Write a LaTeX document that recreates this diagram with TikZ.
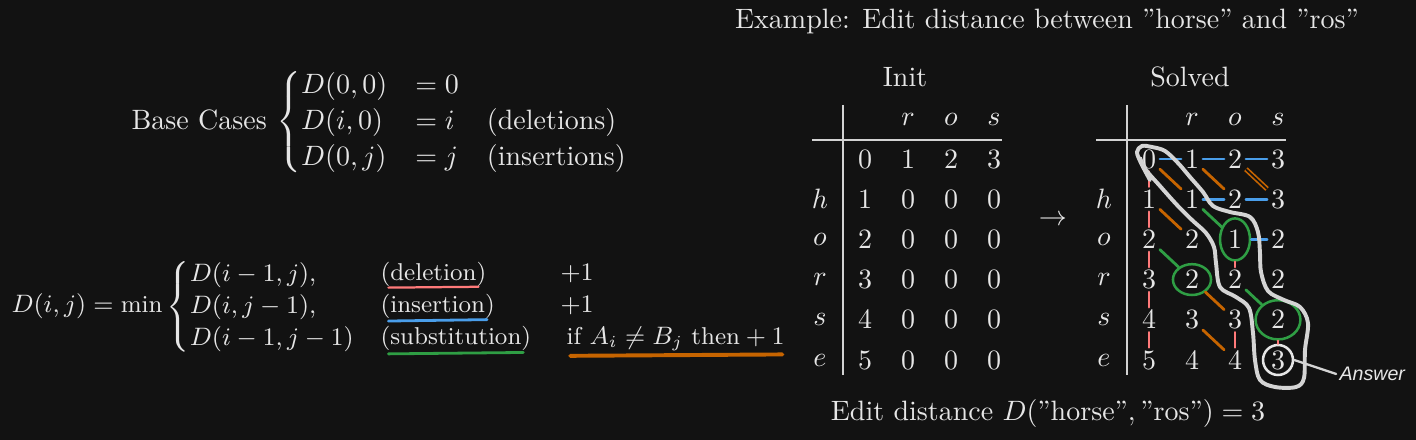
\documentclass[tikz,border=0pt]{standalone}
\usepackage{amsmath}
\usepackage{fontspec}
\newfontfamily\handfont{Liberation Sans}
\definecolor{bgdark}{HTML}{121212}
\definecolor{ink}{HTML}{E6E6E6}
\definecolor{rulegray}{HTML}{D2D2D2}
\definecolor{delred}{HTML}{FF7A7A}
\definecolor{insblue}{HTML}{4A9EEA}
\definecolor{subamber}{HTML}{C66400}
\definecolor{matchgreen}{HTML}{2F9E44}
\definecolor{pathgray}{HTML}{D4D4D4}
\usetikzlibrary{shapes.geometric, calc}
\tikzset{
	txt/.style={text=ink, inner sep=0pt},
	rectxt/.style={text=ink, inner sep=0pt, anchor=base west, font=\fontsize{8.7}{10.6}\selectfont},
	cell/.style={text=ink, inner xsep=1.2pt, inner ysep=1pt},
	tablerule/.style={draw=rulegray, line width=0.9pt},
	delline/.style={draw=delred, line width=0.8pt, line cap=round},
	insline/.style={draw=insblue, line width=1pt, line cap=round},
	subline/.style={draw=subamber, line width=1pt, line cap=round},
	matchline/.style={draw=matchgreen, line width=1pt, line cap=round},
	matchring/.style={ellipse, draw=matchgreen, line width=0.9pt, inner sep=0pt},
	answerring/.style={circle, draw=ink, line width=0.9pt, minimum size=10.7pt, inner sep=0pt},
	pathloop/.style={draw=pathgray, line width=1.4pt, line cap=round, line join=round},
}

\begin{document}
\begin{tikzpicture}[x=0.357pt, y=-0.357pt]
	\fill[bgdark] (0,0) rectangle (1416,440);
	\useasboundingbox (0,0) rectangle (1416,440);

	\node[txt, anchor=west] (base) at (131,122) {Base Cases $\left\{\def\arraystretch{1.07}\begin{array}{@{}l@{\quad}l@{\quad}l@{}} D(0,0) & =0 & \\ D(i,0) & =i & \text{(deletions)}\\ D(0,j) & =j & \text{(insertions)}\end{array}\right.$};

	\node[rectxt] (rec) at (11,313) {$D(i,j) = \min\left\{\def\arraystretch{1.08}\begin{array}{@{}l@{}} D(i-1,j),\\ D(i,j-1),\\ D(i-1,j-1)\end{array}\right.$};
	\node[rectxt] (delw) at (380,281) {(deletion)};
	\node[rectxt] (insw) at (380,313) {(insertion)};
	\node[rectxt] (subw) at (380,345) {(substitution)};
	\node[rectxt] (cost1) at (560,281) {$+1$};
	\node[rectxt] (cost2) at (560,313) {$+1$};
	\node[rectxt] (cond) at (566,345) {$\text{if } A_i \neq B_j \text{ then} + 1$};
	\draw[delline] ([xshift=3pt]delw.south west) -- ([xshift=-3pt, yshift=0.3pt]delw.south east);
	\draw[insline] ([xshift=3pt, yshift=-0.5pt]insw.south west) -- ([xshift=-3pt]insw.south east);
	\draw[matchline] ([xshift=3pt, yshift=-0.8pt]subw.south west) -- ([xshift=-3pt, yshift=-0.3pt]subw.south east);
	\draw[subline, line width=1.4pt] ([xshift=1.5pt, yshift=-1.5pt]cond.south west) -- ([xshift=-1pt, yshift=-1pt]cond.south east);

	\node[txt] (title) at (1047,22) {Example: Edit distance between ”horse” and ”ros”};
	\node[txt] (init) at (905,77) {Init};
	\node[txt] (solved) at (1190,77) {Solved};
	\node[txt] (to) at (1053,220) {$\rightarrow$};
	\node[txt] (result) at (1048,413) {Edit distance $D(\text{”horse”}, \text{”ros”}) = 3$};

	\foreach \t/\ox in {I/865, S/1149}{
		\foreach \c/\l in {1/r,2/o,3/s} \node[cell] (\t H-\c) at (\ox+43*\c,119) {$\l$};
		\foreach \r/\l in {1/h,2/o,3/r,4/s,5/e} \node[cell] (\t L-\r) at (\ox-45, 159+40.2*\r) {$\l$};
		\draw[tablerule] (\ox-22,105) -- (\ox-22,375);
		\draw[tablerule] (\ox-53,140) -- (\ox+137,140);
	}
	\foreach \r/\row in {0/{0,1,2,3},1/{1,0,0,0},2/{2,0,0,0},3/{3,0,0,0},4/{4,0,0,0},5/{5,0,0,0}}
		\foreach \v [count=\c from 0] in \row \node[cell] (I-\r-\c) at (865+43*\c, 159+40.2*\r) {$\v$};
	\foreach \r/\row in {0/{0,1,2,3},1/{1,1,2,3},2/{2,2,1,2},3/{3,2,2,2},4/{4,3,3,2},5/{5,4,4,3}}
		\foreach \v [count=\c from 0] in \row \node[cell] (S-\r-\c) at (1149+43*\c, 159+40.2*\r) {$\v$};

	\node[matchring, minimum width=10.7pt, minimum height=15pt] (m1) at (S-2-2) {};
	\node[matchring, minimum width=13.6pt, minimum height=11pt] (m2) at (S-3-1) {};
	\node[matchring, minimum width=16pt, minimum height=14pt] (m3) at (S-4-3) {};
	\node[answerring] (ans) at (S-5-3) {};

	\foreach \a/\b in {S-0-0/S-0-1, S-0-1/S-0-2, S-0-2/S-0-3, S-1-1/S-1-2, S-1-2/S-1-3, m1/S-2-3}{\draw[insline] (\a) -- (\b);}
	\foreach \a/\b in {S-0-0/S-1-0, S-1-0/S-2-0, S-2-0/S-3-0, S-3-0/S-4-0, S-4-0/S-5-0, m1/S-3-2, S-4-2/S-5-2, m3/ans}{\draw[delline] (\a) -- (\b);}
	\foreach \a/\b in {S-0-0/S-1-1, S-0-1/S-1-2, S-1-0/S-2-1, m2/S-4-2, S-4-1/S-5-2}{\draw[subline] (\a) -- (\b);}
	\draw[subline, line cap=butt, line width=0.6pt, double=bgdark, double distance=0.6pt] (S-0-2) -- (S-1-3);
	\foreach \a/\b in {S-1-1/m1, S-2-0/m2, S-3-2/m3}{\draw[matchline] (\a) -- (\b);}

	\draw[pathloop] plot[smooth, tension=0.55] coordinates {(1150,180) (1141,163) (1137,152) (1142,146) (1152,147) (1165,151) (1178,163) (1190,177) (1203,192) (1213,206) (1230,212) (1250,217) (1258,232) (1260,253) (1261,272) (1268,291) (1284,300) (1300,307) (1308,323) (1305,350) (1304,378) (1296,387) (1275,387) (1260,380) (1255,360) (1253,333) (1249,308) (1236,297) (1220,287) (1216,263) (1214,247) (1206,233) (1192,220) (1177,205) (1160,186) (1146,170) (1140,158)};

	\node[txt, font=\handfont\itshape\fontsize{7}{8}\selectfont, anchor=west] (answer) at (1339,374) {Answer};
	\draw[pathloop, line width=0.8pt] (ans.east) -- ([xshift=-1pt]answer.west);
\end{tikzpicture}
\end{document}
